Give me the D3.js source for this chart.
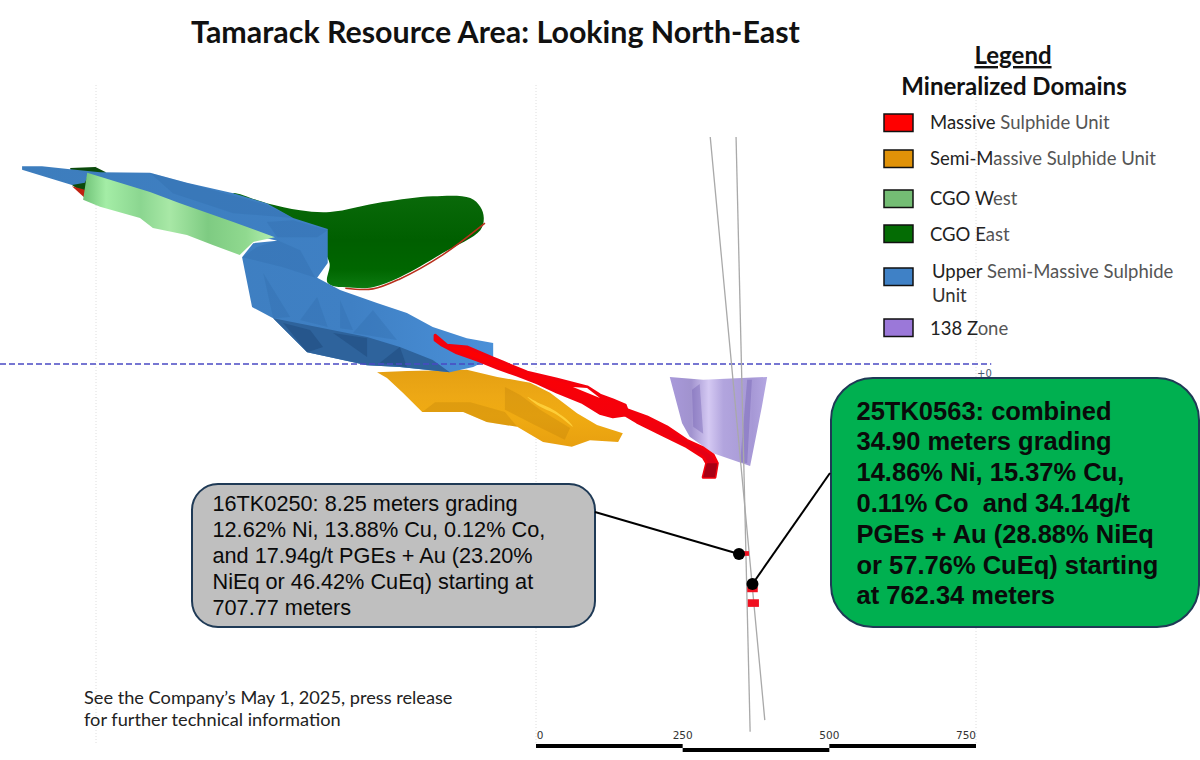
<!DOCTYPE html>
<html>
<head>
<meta charset="utf-8">
<title>Tamarack Resource Area</title>
<script src="https://cdnjs.cloudflare.com/ajax/libs/d3/7.8.5/d3.min.js"></script>
<style>
  html, body { margin: 0; padding: 0; background: #fff; }
  svg { display: block; }
</style>
</head>
<body>
<div id="canvas"></div>
<script>
// section outlines: [metres along section, elevation in metres]
const upperSemiMassive = [[-876,337],[-842,337],[-794,332],[-743,327],[-658,326],[-595,309],[-516,291],[-459,274],[-414,249],[-355,230],[-355,172],[-373,147],[-334,126],[-271,104],[-220,87],[-176,63],[-118,44],[-73,36],[-73,12],[-107,-5],[-147,-14],[-232,-5],[-288,-2],[-390,20],[-448,78],[-484,97],[-501,182],[-482,206],[-441,210],[-505,225],[-573,245],[-607,262],[-658,280],[-765,318],[-769,309],[-791,305],[-876,331]];
const upperLowerFace = [[-448,78],[-373,63],[-288,46],[-232,29],[-176,7],[-147,-14],[-232,-5],[-288,-2],[-390,20]];
const upperDarkFacets = [
  [[-459,242],[-414,245],[-355,228],[-373,216],[-441,216]],
  [[-501,182],[-476,199],[-441,211],[-402,194],[-376,147],[-431,165]],
  [[-658,326],[-459,271],[-414,249],[-516,257],[-619,291]],
  [[-465,155],[-448,78],[-419,80]],
  [[-373,114],[-355,63],[-402,75]],
  [[-334,109],[-334,61],[-312,58]],
  [[-278,92],[-312,53],[-237,41]]
];
const upperLowerFacets = [
  [[-346,53],[-288,12],[-288,44]],
  [[-232,29],[-220,-5],[-266,2]],
  [[-431,70],[-390,20],[-363,29],[-385,58]]
];
const cgoEast = [[-516,291],[-459,274],[-402,262],[-351,259],[-261,276],[-176,286],[-112,283],[-95,268],[-89,249],[-95,228],[-159,189],[-232,148],[-278,131],[-312,130],[-355,138],[-352,172],[-370,200],[-450,240],[-500,270]];
const cgoEastRim = [[-87,240],[-159,186],[-232,145],[-278,128],[-325,129]];
const cgoEastTail = [[-794,334],[-751,336],[-733,327],[-767,288],[-791,305]];
const cgoEastTailRim = [[-791,303],[-769,283],[-769,297]];
const cgoWest = [[-765,326],[-658,293],[-607,274],[-516,242],[-445,216],[-482,208],[-505,186],[-551,203],[-595,220],[-653,232],[-675,249],[-743,268],[-772,280]];
const semiMassive = [[-271,-14],[-220,-12],[-118,-10],[-66,-22],[-10,-32],[24,-49],[70,-84],[104,-104],[148,-118],[140,-133],[92,-130],[61,-141],[12,-133],[-32,-107],[-84,-99],[-124,-82],[-194,-82],[-227,-49],[-254,-24]];
const semiMassiveShadows = [
  [[-194,-82],[-124,-82],[-84,-99],[-32,-107],[-53,-82],[-112,-65],[-172,-65]],
  [[-53,-39],[-53,-78],[-2,-104],[49,-129],[58,-109],[7,-78],[-27,-53]]
];
const semiMassiveGlint = [[-15,-56],[2,-65],[24,-75],[53,-95],[63,-107],[36,-87],[2,-70]];
const massive = [[-172,49],[-152,32],[-118,29],[-73,10],[-56,3],[-15,-14],[36,-26],[87,-39],[109,-53],[131,-61],[152,-70],[155,-78],[189,-90],[223,-107],[257,-130],[285,-143],[302,-155],[309,-169],[305,-193],[285,-193],[291,-169],[285,-159],[257,-141],[216,-121],[172,-99],[152,-87],[131,-90],[109,-84],[80,-66],[36,-48],[2,-32],[-32,-19],[-66,-7],[-101,7],[-135,19],[-160,32],[-172,41]];
const massiveHole = [[63,-39],[87,-41],[109,-58],[87,-49]];
const massiveKeel = [[291,-169],[309,-169],[305,-193],[285,-193]];
const zone138 = [[228,-22],[285,-27],[394,-22],[385,-73],[365,-174],[302,-152],[262,-124],[249,-101]];
const zone138Facets = [
  [[266,-44],[279,-34],[285,-119],[268,-107]],
  [[360,-27],[368,-27],[360,-169],[348,-167]]
];
const drillHoles = [
  [[341,387],[365,-627]],
  [[297,387],[390,-607]]
];
// intercepts: x from, x to, elevation top, elevation bottom
const intercepts = [[353,363,-319,-327],[360,378,-380,-389],[361,380,-401,-414]];
const collars = [[346,-324],[369,-375]];

const gridLines = [-750,0,750];
const scaleBarTicks = [0,250,500,750];

const legendNames = [
  ["Massive"," Sulphide Unit"],
  ["Semi-M","assive Sulphide Unit"],
  ["CGO W","est"],
  ["CGO E","ast"],
  ["Upper"," Semi-Massive Sulphide"],
  ["138 Z","one"]
];
const legendColors = ["#ff0000","#e09208","#74bd74","#046c04","#3f81c6","#9b78d9"];

const leftCallout = ["16TK0250: 8.25 meters grading","12.62% Ni, 13.88% Cu, 0.12% Co,","and 17.94g/t PGEs + Au (23.20%","NiEq or 46.42% CuEq) starting at","707.77 meters"];
const rightCallout = ["25TK0563: combined","34.90 meters grading","14.86% Ni, 15.37% Cu,","0.11% Co  and 34.14g/t","PGEs + Au (28.88% NiEq","or 57.76% CuEq) starting","at 762.34 meters"];
const footnote = ["See the Company\u2019s May 1, 2025, press release","for further technical information"];

const width = 1200;
const height = 760;

const svg = d3.select("#canvas")
  .append("svg")
  .attr("width", width)
  .attr("height", height);

// one metre is the same size on both axes
const x = d3.scaleLinear().domain([0, 750]).range([536, 976]);
const y = d3.scaleLinear().domain([0, -750]).range([364, 804]);

const hard = d3.line().x(d => x(d[0])).y(d => y(d[1])).curve(d3.curveLinearClosed);
const soft = d3.line().x(d => x(d[0])).y(d => y(d[1])).curve(d3.curveCatmullRomClosed.alpha(0.5));
const open = d3.line().x(d => x(d[0])).y(d => y(d[1])).curve(d3.curveCatmullRom.alpha(0.5));

const defs = svg.append("defs");
const gradient = (id, stops, x2, y2) => {
  const g = defs.append("linearGradient").attr("id", id)
    .attr("x1", 0).attr("y1", 0).attr("x2", x2).attr("y2", y2);
  stops.forEach(s => g.append("stop").attr("offset", s[0]).attr("stop-color", s[1]));
};
gradient("westFill", [[0,"#6fc277"],[0.12,"#a4eda6"],[0.3,"#8bd690"],[0.45,"#a8e8a6"],[0.65,"#7ecb82"],[0.85,"#90d98f"],[1,"#b4f0b0"]], 1, 0);
gradient("eastFill", [[0,"#0a6a0a"],[0.5,"#005f00"],[0.8,"#006600"],[1,"#0c7a10"]], 0, 1);
gradient("goldFill", [[0,"#e5a013"],[0.35,"#eda815"],[0.6,"#f0ab12"],[1,"#e8a010"]], 0, 1);
gradient("purpleFill", [[0,"#a494d8"],[0.22,"#9c8dcc"],[0.4,"#d2c6f2"],[0.55,"#aea0dc"],[0.85,"#a293d4"],[1,"#b0a2e0"]], 1, 0);
gradient("redFill", [[0,"#ff0000"],[0.6,"#f4000c"],[1,"#d8001c"]], 0, 1);
gradient("blueFill", [[0,"#3d7dbd"],[0.7,"#3f80c4"],[1,"#4a90d8"]], 1, 0);

const area = (pts, line, fill, opacity) => svg.append("path")
  .attr("d", line(pts))
  .attr("fill", fill)
  .attr("opacity", opacity === undefined ? 1 : opacity);

// faint section grid
svg.selectAll(".grid").data(gridLines).enter().append("line")
  .attr("class", "grid")
  .attr("x1", d => x(d)).attr("x2", d => x(d))
  .attr("y1", 85).attr("y2", 745)
  .attr("stroke", "#dedede")
  .attr("stroke-dasharray", "1 2");

// gold and CGO East sit behind the upper unit
area(semiMassive, hard, "url(#goldFill)");
semiMassiveShadows.forEach(s => area(s, hard, "#b87a08", 0.28));
area(semiMassiveGlint, soft, "#ffd23c", 0.9);

area(cgoEastTail, hard, "#0b4a0b");
area(cgoEastTailRim, hard, "#c02010");
area(cgoEast, soft, "url(#eastFill)");
svg.append("path").attr("d", open(cgoEastRim))
  .attr("fill", "none").attr("stroke", "#b8301c").attr("stroke-width", 1.6);

area(upperSemiMassive, hard, "url(#blueFill)");
area(upperLowerFace, hard, "#2e639c");
upperDarkFacets.forEach(f => area(f, hard, "#2f6aa8", 0.3));
upperLowerFacets.forEach(f => area(f, hard, "#1d4a7c", 0.5));
area(cgoWest, hard, "url(#westFill)");

// +0 level
svg.append("line")
  .attr("x1", 0).attr("x2", x(776))
  .attr("y1", y(0)).attr("y2", y(0))
  .attr("stroke", "#4a4ac4")
  .attr("stroke-width", 1.3)
  .attr("stroke-dasharray", "6 3");
svg.append("text")
  .attr("x", 977).attr("y", 377)
  .attr("font-family", "DejaVu Sans")
  .attr("font-size", 10)
  .attr("fill", "#4a5a70")
  .text("+0");

area(zone138, hard, "url(#purpleFill)", 0.95);
zone138Facets.forEach(f => area(f, hard, "#6f5bb0", 0.38));

area(massive, hard, "url(#redFill)")
  .attr("stroke", "#f4000c")
  .attr("stroke-width", 3)
  .attr("stroke-linejoin", "round");
area(massiveHole, hard, "#fff");
area(massiveKeel, hard, "#a80014");

// drill holes
svg.selectAll(".hole").data(drillHoles).enter().append("line")
  .attr("class", "hole")
  .attr("x1", d => x(d[0][0])).attr("y1", d => y(d[0][1]))
  .attr("x2", d => x(d[1][0])).attr("y2", d => y(d[1][1]))
  .attr("stroke", "#a9a9a9")
  .attr("stroke-width", 1.3);

svg.selectAll(".intercept").data(intercepts).enter().append("rect")
  .attr("class", "intercept")
  .attr("x", d => x(d[0])).attr("width", d => x(d[1]) - x(d[0]))
  .attr("y", d => y(d[2])).attr("height", d => y(d[3]) - y(d[2]))
  .attr("fill", "#f01020");

// callouts
const callout = (bx, by, bw, bh, r, fill) => svg.append("rect")
  .attr("x", bx).attr("y", by).attr("width", bw).attr("height", bh)
  .attr("rx", r).attr("ry", r)
  .attr("fill", fill)
  .attr("stroke", "#1f3a56")
  .attr("stroke-width", 2);

const calloutText = (lines, tx, ty, step, size, weight) => {
  const t = svg.append("g")
    .attr("font-family", "Liberation Sans")
    .attr("font-size", size)
    .attr("font-weight", weight)
    .attr("fill", "#0a0a0a");
  lines.forEach((l, i) => t.append("text").attr("x", tx).attr("y", ty + i * step)
    .style("white-space", "pre").text(l));
};

callout(192, 484, 403, 143, 26, "#bfbfbf");
calloutText(leftCallout, 212.5, 510.7, 26.1, 21.7, "normal");
callout(831, 378, 368, 249, 42, "#00b050");
calloutText(rightCallout, 856.5, 419.5, 30.8, 25.5, "bold");

// leaders
svg.append("line").attr("x1", 595).attr("y1", 512)
  .attr("x2", x(collars[0][0])).attr("y2", y(collars[0][1]))
  .attr("stroke", "#000").attr("stroke-width", 2);
svg.append("line").attr("x1", 830).attr("y1", 473)
  .attr("x2", x(collars[1][0])).attr("y2", y(collars[1][1]))
  .attr("stroke", "#000").attr("stroke-width", 2);
svg.selectAll(".collar").data(collars).enter().append("circle")
  .attr("class", "collar")
  .attr("cx", d => x(d[0])).attr("cy", d => y(d[1]))
  .attr("r", 6)
  .attr("fill", "#000");

// title
svg.append("text")
  .attr("x", 191).attr("y", 43)
  .attr("font-family", "Lato")
  .attr("font-weight", "bold")
  .attr("font-size", 30.4)
  .attr("fill", "#111")
  .text("Tamarack Resource Area: Looking North-East");

// legend
svg.append("text")
  .attr("x", 1013).attr("y", 64)
  .attr("text-anchor", "middle")
  .attr("font-family", "Lato").attr("font-weight", "bold").attr("font-size", 24)
  .attr("text-decoration", "underline")
  .attr("fill", "#111")
  .text("Legend");
svg.append("text")
  .attr("x", 1014).attr("y", 95)
  .attr("text-anchor", "middle")
  .attr("font-family", "Lato").attr("font-weight", "bold").attr("font-size", 24)
  .attr("fill", "#111")
  .text("Mineralized Domains");

const swatchY = [114, 150, 190, 225, 268, 319];
const legendBase = [129, 165, 205, 241, 278, 335];
const legendX = [930, 930, 930, 930, 932, 930];

svg.selectAll(".swatch").data(legendColors).enter().append("rect")
  .attr("class", "swatch")
  .attr("x", 884).attr("width", 29)
  .attr("y", (d, i) => swatchY[i]).attr("height", 17.5)
  .attr("fill", d => d)
  .attr("stroke", "#111")
  .attr("stroke-width", 1.5);

legendNames.forEach((parts, i) => {
  const t = svg.append("text")
    .attr("x", legendX[i]).attr("y", legendBase[i])
    .attr("font-family", "Lato").attr("font-size", 18.5)
    .style("white-space", "pre");
  t.append("tspan").attr("fill", "#222").text(parts[0]);
  t.append("tspan").attr("fill", "#555").text(parts[1]);
});
svg.append("text")
  .attr("x", 932).attr("y", 302)
  .attr("font-family", "Lato").attr("font-size", 18.5)
  .attr("fill", "#333")
  .text("Unit");

// footnote
footnote.forEach((l, i) => svg.append("text")
  .attr("x", 84).attr("y", 704 + i * 22)
  .attr("font-family", "Lato").attr("font-size", 18.2)
  .attr("fill", "#222")
  .text(l));

// scale bar
const bar = d3.pairs(scaleBarTicks);
svg.selectAll(".bar").data(bar).enter().append("line")
  .attr("class", "bar")
  .attr("x1", d => x(d[0])).attr("x2", d => x(d[1]))
  .attr("y1", (d, i) => i === 1 ? 750 : 746)
  .attr("y2", (d, i) => i === 1 ? 750 : 746)
  .attr("stroke", "#000")
  .attr("stroke-width", 4);
svg.selectAll(".barLabel").data(scaleBarTicks).enter().append("text")
  .attr("class", "barLabel")
  .attr("x", d => x(d))
  .attr("dx", d => d === 0 ? 4 : (d === 750 ? -10 : 0))
  .attr("y", 739)
  .attr("text-anchor", "middle")
  .attr("font-family", "DejaVu Sans")
  .attr("font-size", 10.5)
  .attr("fill", "#333")
  .text(d => d);
</script>
</body>
</html>
